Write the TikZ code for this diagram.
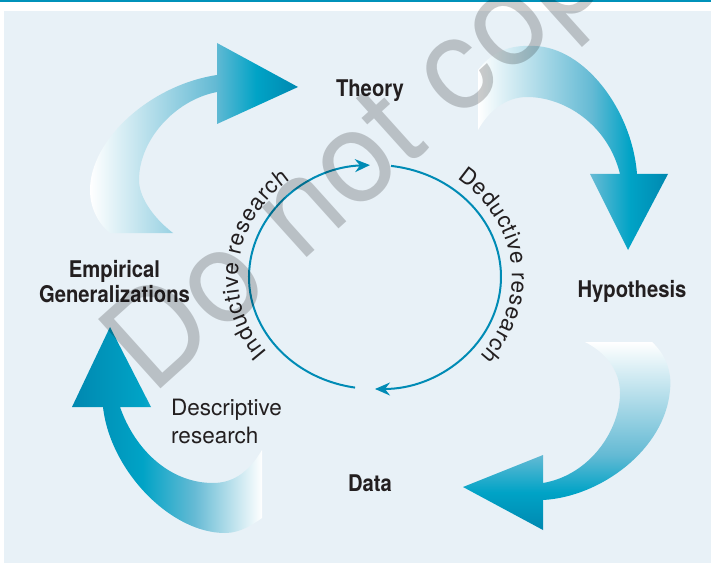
\documentclass[tikz,border=0pt]{standalone}
\usepackage{fontspec}
\setmainfont{TeX Gyre Heros}
\newfontfamily\condfont[FakeStretch=0.88]{TeX Gyre Heros}
\usetikzlibrary{arrows.meta,decorations.text}
\definecolor{bgblue}{RGB}{232,241,247}
\definecolor{topline}{RGB}{0,146,186}
\definecolor{tealD}{RGB}{0,136,176}
\definecolor{tealM}{RGB}{0,163,198}
\definecolor{tealL}{RGB}{100,186,212}
\definecolor{circ}{RGB}{0,139,181}
\definecolor{ink}{RGB}{35,31,32}
\pgfdeclarehorizontalshading{fadeRight}{100bp}{color(0bp)=(white); color(25bp)=(white); color(55bp)=(tealL); color(65bp)=(tealM); color(75bp)=(tealD); color(100bp)=(tealD)}
\pgfdeclarehorizontalshading{fadeLeft}{100bp}{color(0bp)=(tealD); color(25bp)=(tealD); color(43.5bp)=(tealM); color(57bp)=(tealL); color(75bp)=(white); color(100bp)=(white)}
\pgfdeclareverticalshading{fadeUp}{100bp}{color(0bp)=(tealD); color(25bp)=(tealD); color(35bp)=(tealM); color(45bp)=(tealL); color(75bp)=(white); color(100bp)=(white)}
\newcommand\ringfont{\fontsize{22.5}{25}\selectfont}
\tikzset{
  lbl/.style={font=\condfont\bfseries\fontsize{23}{25}\selectfont, text=ink, inner sep=0pt, anchor=base},
  plaintext/.style={font=\fontsize{22.5}{26}\selectfont, text=ink, inner sep=0pt, anchor=base west},
  circline/.style={draw=circ, line width=2pt, -{Stealth[length=15pt,width=13pt,inset=5pt]}},
  ringtext/.style={decorate, decoration={text along path, text align=fit to path, text color=ink, text={|\ringfont|#1}}},
  wm/.style={font=\fontsize{128}{138}\selectfont, text=black, text opacity=0.2, rotate=42, anchor=base west, inner sep=0pt},
}
\begin{document}
\begin{tikzpicture}[x=1pt,y=1pt]
\useasboundingbox (0,0) rectangle (711,563);
\fill[white] (0,0) rectangle (711,563);
\fill[bgblue] (4,0) rectangle (711,552);
\draw[topline, line width=1.5pt] (0,562.2) -- (711,562.2);

% big curved arrows
\shade[shading=fadeRight] (217,520) -- (298,476) -- (217,439) -- (217,471) .. controls (175,463) and (139,423) .. (139,383) .. controls (139,368) and (150,348) .. (173,330) -- (110,330) .. controls (100,338) and (90,353) .. (90,373) .. controls (90,423) and (150,478) .. (217,488) -- cycle;
\shade[shading=fadeRight] (478,493) .. controls (495,515) and (515,518) .. (535,517) .. controls (585,515) and (632,453) .. (637,389) -- (668,389) -- (628,313) -- (590,389) -- (620,389) .. controls (608,438) and (565,466) .. (527,466) .. controls (505,466) and (488,451) .. (478,433) -- cycle;
\shade[shading=fadeUp] (585,221) -- (652,221) .. controls (666,208) and (672,191) .. (670,173) .. controls (665,113) and (600,66) .. (543,63) -- (543,33) -- (463,76) -- (543,108) -- (543,80) .. controls (590,88) and (620,133) .. (620,170) .. controls (620,193) and (605,211) .. (585,221) -- cycle;
\shade[shading=fadeLeft] (72,156) -- (110,236) -- (151,156) -- (120,156) .. controls (135,113) and (170,80) .. (213,80) .. controls (235,80) and (250,93) .. (262,113) -- (262,45) .. controls (252,38) and (240,30) .. (225,30) .. controls (170,30) and (110,93) .. (103,156) -- cycle;

% inner cycle
\coordinate (C) at (375,286);
\draw[circline] (C) ++(82.7:126 and 112) arc[start angle=82.7, end angle=-90, x radius=126, y radius=112];
\draw[circline] (C) ++(260.9:126 and 112) arc[start angle=260.9, end angle=92.3, x radius=126, y radius=112];
\path[ringtext={Inductive research}] (C) ++(218:137 and 123) arc[start angle=218, end angle=128, x radius=137, y radius=123];
\path[ringtext={Deductive research}] (C) ++(53:137 and 123) arc[start angle=53, end angle=-40, x radius=137, y radius=123];

% labels
\node[lbl] (theory) at (370,466.3) {Theory};
\node[lbl] (hyp) at (632,265.3) {Hypothesis};
\node[lbl] (data) at (370,71.3) {Data};
\node[lbl] (emp1) at (114.5,285.7) {Empirical};
\node[lbl] (emp2) at (114.5,261) {Generalizations};
\node[plaintext] (desc1) at (171,148) {Descriptive};
\node[plaintext] (desc2) at (171,120) {research};

% watermark
\begin{scope}
\clip (0,0) rectangle (711,563);
\node[wm] (mark) at (152,166) {Do not copy};
\end{scope}
\end{tikzpicture}
\end{document}
